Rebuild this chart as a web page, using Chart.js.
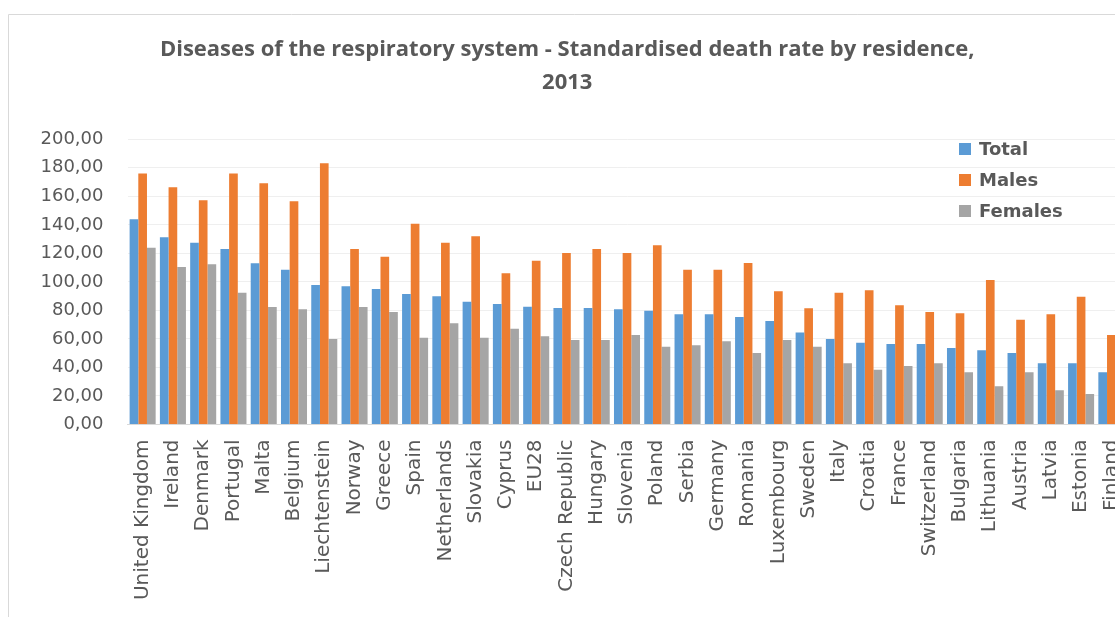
<!DOCTYPE html>
<html>
<head>
<meta charset="utf-8">
<script src="https://cdn.jsdelivr.net/npm/chart.js@4/dist/chart.umd.min.js"></script>
<style>
  html, body { margin: 0; padding: 0; background: #fff; overflow: hidden; }
  #deathChart { position: absolute; left: 0; top: 0; }
</style>
</head>
<body>
<canvas id="deathChart" width="1140" height="617"></canvas>
<script>
// Data
const countries = ['United Kingdom', 'Ireland', 'Denmark', 'Portugal', 'Malta', 'Belgium',
  'Liechtenstein', 'Norway', 'Greece', 'Spain', 'Netherlands', 'Slovakia', 'Cyprus', 'EU28',
  'Czech Republic', 'Hungary', 'Slovenia', 'Poland', 'Serbia', 'Germany', 'Romania',
  'Luxembourg', 'Sweden', 'Italy', 'Croatia', 'France', 'Switzerland', 'Bulgaria',
  'Lithuania', 'Austria', 'Latvia', 'Estonia', 'Finland'];

const totalRates = [143.9, 131.3, 127.5, 123.1, 113.0, 108.6, 97.8, 96.9, 95.0, 91.5, 89.9,
  86.1, 84.5, 82.6, 81.7, 81.7, 80.8, 79.8, 77.3, 77.3, 75.4, 72.6, 64.6, 60.0, 57.4,
  56.5, 56.5, 53.6, 52.0, 50.1, 42.9, 42.9, 36.6];

const maleRates = [176.1, 166.3, 157.2, 176.1, 169.1, 156.5, 183.2, 123.1, 117.7, 140.8, 127.5,
  132.0, 106.0, 114.9, 120.3, 123.1, 120.3, 125.7, 108.6, 108.6, 113.3, 93.4, 81.5, 92.4, 94.1,
  83.6, 78.9, 78.0, 101.3, 73.5, 77.3, 89.6, 62.8];

const femaleRates = [124.0, 110.4, 112.3, 92.4, 82.4, 80.8, 60.0, 82.4, 78.9, 60.9, 71.0,
  60.9, 67.2, 61.8, 59.3, 59.3, 62.8, 54.6, 55.5, 58.3, 50.1, 59.3, 54.6, 42.9, 38.4,
  41.0, 42.9, 36.6, 26.8, 36.6, 24.0, 21.4, 22.0];

const seriesNames = ['Total', 'Males', 'Females'];
const seriesColors = ['#5b9bd5', '#ed7d31', '#a5a5a5'];

const yMin = 0;
const yMax = 200;
const yStep = 20;

const textColor = '#595959';

// Outer frame of the chart object (top and left edge only, rest is cut off)
const framePlugin = {
  id: 'frame',
  beforeDraw(chart) {
    const ctx = chart.ctx;
    ctx.save();
    ctx.strokeStyle = '#d9d9d9';
    ctx.lineWidth = 1;
    ctx.beginPath();
    ctx.moveTo(8.5, chart.height);
    ctx.lineTo(8.5, 14.5);
    ctx.lineTo(chart.width, 14.5);
    ctx.stroke();
    ctx.restore();
  }
};

// Legend drawn inside the plot area, top right
const insideLegend = {
  id: 'insideLegend',
  afterDraw(chart) {
    const ctx = chart.ctx;
    ctx.save();
    ctx.font = 'bold 18px "DejaVu Sans"';
    ctx.textBaseline = 'middle';
    chart.data.datasets.forEach((ds, i) => {
      const y = 149 + i * 31;
      ctx.fillStyle = ds.backgroundColor;
      ctx.fillRect(959, y - 6, 12, 12);
      ctx.fillStyle = textColor;
      ctx.fillText(ds.label, 979, y + 1);
    });
    ctx.restore();
  }
};

const ctx = document.getElementById('deathChart');
new Chart(ctx, {
  type: 'bar',
  data: {
    labels: countries,
    datasets: [
      { label: seriesNames[0], data: totalRates, backgroundColor: seriesColors[0] },
      { label: seriesNames[1], data: maleRates, backgroundColor: seriesColors[1] },
      { label: seriesNames[2], data: femaleRates, backgroundColor: seriesColors[2] }
    ]
  },
  options: {
    responsive: false,
    animation: false,
    devicePixelRatio: 1,
    layout: {
      padding: { left: 8, right: 13.5, top: 14, bottom: 0 }
    },
    datasets: {
      bar: {
        categoryPercentage: 0.86,
        barPercentage: 1.0,
        borderWidth: 0
      }
    },
    scales: {
      x: {
        grid: { display: false, drawTicks: false },
        border: { display: true, color: '#d9d9d9', width: 1 },
        ticks: {
          color: textColor,
          font: { family: '"DejaVu Sans"', size: 20 },
          minRotation: 90,
          maxRotation: 90,
          autoSkip: false,
          padding: 15
        },
        afterFit(scale) {
          scale.height = 192.5;
          // plot runs past the window edge, so no extra room for the last label
          scale.paddingLeft = 0;
          scale.paddingRight = 0;
        }
      },
      y: {
        min: yMin,
        max: yMax,
        grid: { color: '#efefef', lineWidth: 1, drawTicks: false },
        border: { display: false },
        ticks: {
          stepSize: yStep,
          color: textColor,
          font: { family: '"DejaVu Sans"', size: 18 },
          padding: 24,
          callback: (v) => v.toFixed(2).replace('.', ',')
        },
        afterFit(scale) { scale.width = 119.5; }
      }
    },
    plugins: {
      legend: { display: false },
      tooltip: { enabled: false },
      title: {
        display: true,
        text: ['Diseases of the respiratory system - Standardised death rate by residence,', '2013'],
        color: textColor,
        font: { family: '"Open Sans"', size: 22, weight: 'bold', lineHeight: 1.5 },
        padding: { top: 19.5, bottom: 39.8 }
      }
    }
  },
  plugins: [framePlugin, insideLegend]
});
</script>
</body>
</html>
